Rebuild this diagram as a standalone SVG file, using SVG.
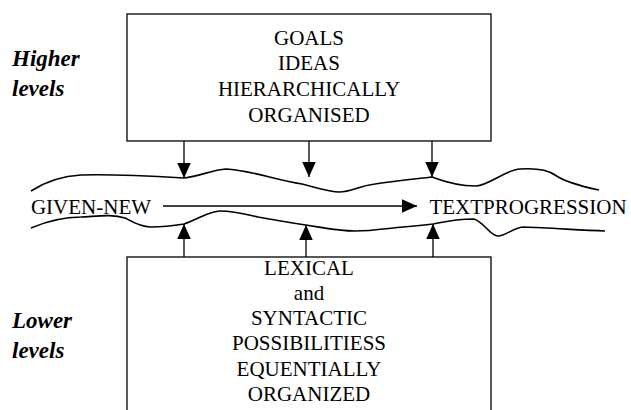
<svg xmlns="http://www.w3.org/2000/svg" width="631" height="410" viewBox="0 0 631 410">
<style>
text{font-family:"Liberation Serif","Times New Roman",Times,serif}
.t{font-size:21px;fill:#000;text-anchor:middle}
.l{font-size:23px;font-weight:bold;font-style:italic;fill:#000}
.box{fill:#fff;stroke:#000;stroke-width:1.3}
.w{fill:none;stroke:#000;stroke-width:1.6;stroke-linejoin:round}
.c{stroke:#000;stroke-width:1.3;fill:none}
</style>
<defs>
<marker id="ah" viewBox="0 0 10 10" refX="10" refY="5" markerWidth="15" markerHeight="15" markerUnits="userSpaceOnUse" orient="auto">
<path d="M0,0.5 L10,5 L0,9.5 Z" fill="#000"/>
</marker>
</defs>
<rect width="631" height="410" fill="#fff"/>
<g id="higher-label">
<text class="l" x="12" y="66">Higher</text>
<text class="l" x="12" y="96">levels</text>
</g>
<g id="top-box">
<rect class="box" x="127" y="14" width="364" height="127"/>
<text class="t" x="309" y="45">GOALS</text>
<text class="t" x="309" y="70">IDEAS</text>
<text class="t" x="309" y="96">HIERARCHICALLY</text>
<text class="t" x="309" y="122">ORGANISED</text>
</g>
<g id="lower-label">
<text class="l" x="12" y="328">Lower</text>
<text class="l" x="12" y="358">levels</text>
</g>
<g id="bottom-box">
<rect class="box" x="127" y="257" width="364" height="160"/>
<text class="t" x="309" y="275">LEXICAL</text>
<text class="t" x="309" y="300">and</text>
<text class="t" x="309" y="325">SYNTACTIC</text>
<text class="t" x="309" y="350">POSSIBILITIESS</text>
<text class="t" x="309" y="376">EQUENTIALLY</text>
<text class="t" x="309" y="401">ORGANIZED</text>
</g>
<g id="given-new">
<text class="t" x="91" y="214">GIVEN-NEW</text>
</g>
<g id="text-progression">
<text class="t" x="528" y="214">TEXTPROGRESSION</text>
</g>
<g id="waves">
<path class="w" d="M31,191 C45,182 60,176 81,175 C110,174 150,176 184,178 C200,176 212,170 226,169 C250,170 275,180 302,184 C318,188 330,192 339,192 C352,192 358,186 375,184 C395,181 415,179 432,177 C445,182 462,186 476,186 C490,185 505,170 520,169 C535,168 548,170 555,175 C565,182 580,186 599,190"/>
<path class="w" d="M31,228 C45,222 62,217 81,217 C100,216 112,214 125,218 C135,223 142,227 151,227 C162,227 172,226 184,224 C200,218 210,211 220,211 C235,211 245,214 258,217 C275,220 292,223 306,225 C325,228 340,231 355,231 C372,231 390,228 403,227 C415,226 425,225 433,224 C443,222 455,219 474,219 C484,222 490,236 498,236 C506,236 514,227 524,227 C550,228 580,230 605,231"/>
</g>
<g id="connectors">
<line class="c" x1="184" y1="141" x2="184" y2="178" marker-end="url(#ah)"/>
<line class="c" x1="309" y1="141" x2="309" y2="177" marker-end="url(#ah)"/>
<line class="c" x1="432" y1="141" x2="432" y2="177" marker-end="url(#ah)"/>
<line class="c" x1="184" y1="257" x2="184" y2="224" marker-end="url(#ah)"/>
<line class="c" x1="306" y1="257" x2="306" y2="225" marker-end="url(#ah)"/>
<line class="c" x1="433" y1="257" x2="433" y2="224" marker-end="url(#ah)"/>
<line class="c" x1="163" y1="206" x2="417" y2="206" marker-end="url(#ah)"/>
</g>
</svg>
